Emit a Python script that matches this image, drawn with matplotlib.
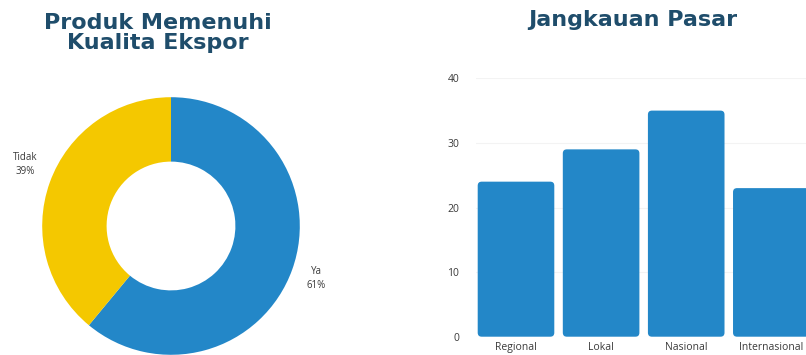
import matplotlib
matplotlib.use("Agg")
import matplotlib.pyplot as plt
from matplotlib.patches import FancyBboxPatch

# data
pie_labels = ['Ya', 'Tidak']
pie_values = [61, 39]
pie_colors = ['#2387c8', '#f4c800']

market_names = ['Regional', 'Lokal', 'Nasional', 'Internasional']
market_values = [24, 29, 35, 23]
y_ticks = [0, 10, 20, 30, 40]

title_color = '#1f4d6b'
text_color = '#3a3a3a'

fig = plt.figure(figsize=(8.06, 3.55), dpi=100)

# donut chart (left)
ax1 = fig.add_axes([10 / 806, -32 / 355, 322 / 806, 322 / 355])
wedges, texts = ax1.pie(pie_values, colors=pie_colors, startangle=90, counterclock=False,
        labels=[f'{l}\n{v}%' for l, v in zip(pie_labels, pie_values)],
        labeldistance=1.2, wedgeprops=dict(width=0.5, linewidth=0),
        textprops=dict(fontsize=7, color=text_color, ha='center', va='center',
                       linespacing=1.4, family='Open Sans'))
texts[1].set_y(texts[1].get_position()[1] + 0.07)  # nudge Tidak label up a little
ax1.set_xlim(-1.25, 1.25)
ax1.set_ylim(-1.25, 1.25)
ax1.set_aspect('equal')

fig.text(158 / 806, 1 - 33 / 355, 'Produk Memenuhi\nKualita Ekspor', ha='center',
         va='center', fontsize=16, fontweight='bold', color=title_color,
         linespacing=0.95)

# bar chart (right)
ax2 = fig.add_axes([476 / 806, 18.3 / 355, 360 / 806, 258.4 / 355])
bars = ax2.bar(market_names, market_values, width=0.9, color='#2387c8')
ax2.set_xlim(-0.47, 3.76)
ax2.set_ylim(0, 40)
ax2.set_yticks(y_ticks)
ax2.tick_params(length=0, labelsize=7.5, colors=text_color, pad=4)
ax2.tick_params(axis='y', pad=12)
for lbl in ax2.get_xticklabels() + ax2.get_yticklabels():
    lbl.set_family('Open Sans')
ax2.grid(axis='y', color='#f3f3f3', linewidth=0.8)
ax2.set_axisbelow(True)
for s in ax2.spines.values():
    s.set_visible(False)

# rounded tops
px_x = 1 / 85.2
px_y = 40 / 258.4
for b in bars:
    x, y = b.get_x(), b.get_y()
    w, h = b.get_width(), b.get_height()
    b.set_visible(False)
    ax2.add_patch(FancyBboxPatch((x, y), w, h,
                                 boxstyle=f'round,pad=0,rounding_size={4 * px_x}',
                                 mutation_aspect=px_y / px_x,
                                 facecolor='#2387c8', edgecolor='none'))

fig.text(633 / 806, 1 - 20 / 355, 'Jangkauan Pasar', ha='center', va='center',
         fontsize=16, fontweight='bold', color=title_color)

fig.savefig('out.png', dpi=100)
